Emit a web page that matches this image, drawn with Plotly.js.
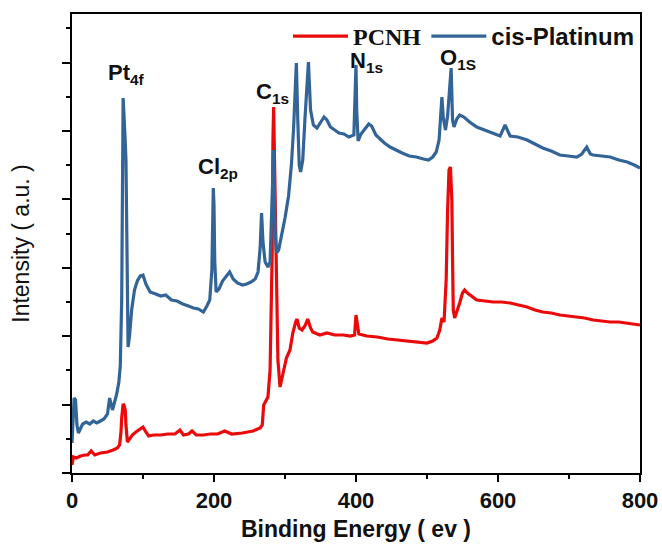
<!DOCTYPE html>
<html>
<head>
<meta charset="utf-8">
<script src="https://cdn.plot.ly/plotly-3.0.1.min.js"></script>
<style>html,body{margin:0;padding:0;background:#fff;}#chart{width:662px;height:552px;}</style>
</head>
<body>
<div id="chart"></div>
<script>
// Binding energy (eV) and intensity (a.u.)
const cisPtEnergy = [0,1,3,5,7,9,12,15,20,25,30,35,40,45,50,53,55,57,60,63,66,68,70,71,72,73,74,75,76,77,78,79,81,84,88,92,96,100,104,110,118,125,132,140,148,156,164,171,178,185,190,194,197,198,199,200,201,203,207,212,218,222,227,233,240,246,252,258,262,265,267,269,272,276,279,282,284,286,288,291,295,300,305,309,312,314,316,318,320,322,325,328,331,333,336,340,345,350,355,359,364,370,376,383,390,397,399,400,401,403,407,412,418,422,428,434,440,448,456,465,475,485,495,502,508,513,517,519,521,523,526,529,532,534,536,538,542,546,552,560,570,582,593,603,610,617,628,641,652,663,675,687,699,711,718,725,730,734,746,758,770,782,792,800];
const cisPtIntensity = [30,53,75,73,48,40,45,49,51,49,52,50,52,54,59,75,69,63,71,79,91,107,173,273,375,361,333,331,313,223,138,126,137,163,183,192,197,198,189,181,179,177,178,173,172,169,167,165,164,161,167,173,203,253,285,268,213,181,184,192,198,201,194,190,188,189,191,194,201,225,260,231,211,206,211,273,323,243,220,223,237,255,277,308,343,381,410,353,308,301,313,353,397,411,363,348,345,350,356,353,346,343,340,339,336,338,373,408,363,332,339,344,349,347,338,334,330,326,323,320,317,316,314,313,316,321,333,358,376,355,343,357,388,405,353,346,354,358,356,351,346,343,340,337,348,337,336,333,329,325,322,318,317,316,319,326,319,318,317,316,313,311,308,305];

const pcnhEnergy = [0,2,6,12,18,22,27,32,40,50,58,64,67,69,70,71,72,73,75,76,78,80,85,90,95,100,104,108,115,125,135,145,152,157,164,169,175,185,195,205,215,225,240,255,265,268,270,274,276,279,282,283,284,285,287,290,293,297,302,307,311,315,317,320,324,328,332,336,339,349,359,370,382,392,398,400,402,404,415,430,445,460,476,490,500,508,514,518,521,524,527,529,531,533,535,536,537,539,542,546,550,553,557,561,570,582,593,605,617,629,641,652,663,675,687,699,711,722,734,746,758,770,782,792,800];
const pcnhIntensity = [8,16,15,17,18,18,22,18,20,21,23,25,28,41,55,65,69,68,63,48,31,33,38,41,44,46,41,37,38,38,39,39,43,38,39,42,38,38,39,39,42,39,40,42,45,48,68,73,76,103,223,333,366,323,220,113,86,100,115,123,140,151,154,145,143,147,154,145,141,138,140,138,138,137,138,158,148,139,137,136,134,133,132,131,130,132,135,143,155,151,193,263,303,306,273,213,163,155,161,170,180,183,180,178,173,172,171,171,170,168,166,163,161,160,158,157,156,155,153,152,151,151,150,149,148];

const seriesNames = ['<span style="font-family:\'Liberation Serif\', \'Times New Roman\', serif">PCNH</span>', 'cis-Platinum'];
const seriesColors = ['rgb(235,10,10)', 'rgb(50,100,152)'];

const peakLabels = ['Pt<sub>4f</sub>', 'Cl<sub>2p</sub>', 'C<sub>1s</sub>', 'N<sub>1s</sub>', 'O<sub>1S</sub>'];
const peakLabelEnergy = [48, 174, 256, 389, 516];
const peakLabelIntensity = [399, 305, 380, 411, 414];

const xTickVals = [0, 200, 400, 600, 800];

const sans = "'Liberation Sans', Arial, sans-serif";

const traces = [
  {x: pcnhEnergy, y: pcnhIntensity, name: seriesNames[0], type: 'scatter', mode: 'lines',
   line: {color: seriesColors[0], width: 3.2}},
  {x: cisPtEnergy, y: cisPtIntensity, name: seriesNames[1], type: 'scatter', mode: 'lines',
   line: {color: seriesColors[1], width: 3.2}}
];

const annotations = peakLabels.map((t, i) => ({
  x: peakLabelEnergy[i], y: peakLabelIntensity[i], xref: 'x', yref: 'y',
  text: t, showarrow: false, xanchor: 'left', yanchor: 'middle',
  font: {family: sans, size: 22, color: '#111', weight: 'bold'}
}));

const layout = {
  width: 662, height: 552,
  margin: {l: 72, r: 22, t: 14, b: 79},
  paper_bgcolor: '#fff', plot_bgcolor: '#fff',
  showlegend: true,
  legend: {orientation: 'h', x: 1, xanchor: 'right', y: 1, yanchor: 'top',
           itemwidth: 55,
           bgcolor: 'rgba(0,0,0,0)', font: {family: sans, size: 24, color: '#111', weight: 'bold'},
           traceorder: 'normal'},
  xaxis: {
    range: [0, 800], tickvals: xTickVals, ticktext: xTickVals.map(String),
    ticks: 'outside', ticklen: 7, tickwidth: 2, tickcolor: '#000',
    minor: {dtick: 100, ticks: 'outside', ticklen: 4, tickwidth: 2, tickcolor: '#000'},
    showline: true, linewidth: 2, linecolor: '#000', mirror: true,
    showgrid: false, zeroline: false,
    tickfont: {family: sans, size: 22, color: '#111', weight: 'bold'},
    title: {text: 'Binding Energy ( ev )', font: {family: sans, size: 23, color: '#111', weight: 'bold'}, standoff: 8}
  },
  yaxis: {
    range: [0, 459], tickmode: 'linear', tick0: 0, dtick: 68.4,
    ticks: 'outside', ticklen: 8, tickwidth: 2, tickcolor: '#000',
    minor: {dtick: 34.2, ticks: 'outside', ticklen: 4, tickwidth: 2, tickcolor: '#000'},
    showticklabels: false,
    showline: true, linewidth: 2, linecolor: '#000', mirror: true,
    showgrid: false, zeroline: false,
    title: {text: 'Intensity ( a.u. )', font: {family: sans, size: 23, color: '#111'}, standoff: 26}
  },
  annotations: annotations
};

Plotly.newPlot('chart', traces, layout, {displayModeBar: false, staticPlot: true});
</script>
</body>
</html>
